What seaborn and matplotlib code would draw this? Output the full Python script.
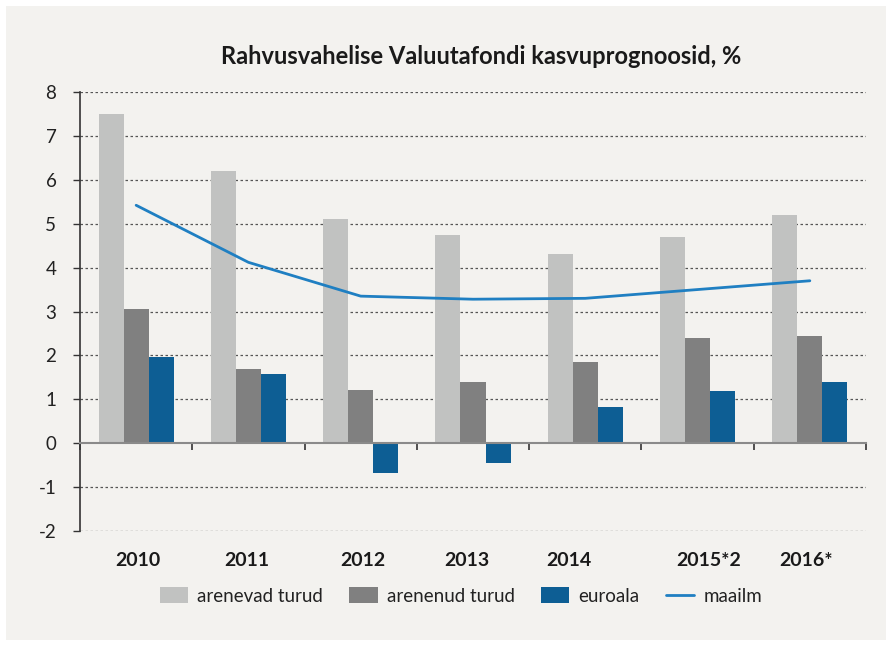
import matplotlib
matplotlib.use("Agg")
import matplotlib.pyplot as plt
import matplotlib.transforms as mtransforms
import seaborn as sns
import pandas as pd
import numpy as np
from matplotlib.patches import Patch, Rectangle
from matplotlib.lines import Line2D

categories = ["2010", "2011", "2012", "2013", "2014", "2015*2", "2016*"]
arenevad_turud = [7.5, 6.2, 5.1, 4.75, 4.3, 4.7, 5.2]
arenenud_turud = [3.05, 1.68, 1.22, 1.4, 1.85, 2.4, 2.45]
euroala = [1.97, 1.58, -0.68, -0.44, 0.83, 1.19, 1.4]
maailm = [5.42, 4.12, 3.35, 3.28, 3.3, 3.5, 3.7]
series_names = ["arenevad turud", "arenenud turud", "euroala"]
line_name = "maailm"
yticks = [-2, -1, 0, 1, 2, 3, 4, 5, 6, 7, 8]
title = "Rahvusvahelise Valuutafondi kasvuprognoosid, %"

colors = ["#c1c2c1", "#808080", "#0d5e94"]
line_color = "#1f7fc2"
bg = "#f3f2ef"

sns.set_theme(style="white")
plt.rcParams["font.family"] = ["Lato", "DejaVu Sans"]

df = pd.DataFrame({
    "year": categories * 3,
    "value": arenevad_turud + arenenud_turud + euroala,
    "series": sum([[s] * len(categories) for s in series_names], []),
})

fig = plt.figure(figsize=(8.9, 6.46), dpi=100)
fig.patch.set_facecolor("white")
fig.patches.append(Rectangle((6 / 890, 6 / 646), 880 / 890, 634 / 646,
                             transform=fig.transFigure, facecolor=bg,
                             edgecolor="none", zorder=-10))

ax = fig.add_axes([80 / 890, 1 - 531 / 646, 786 / 890, 439 / 646])
ax.set_facecolor("none")

sns.barplot(data=df, x="year", y="value", hue="series", order=categories,
            hue_order=series_names, palette=colors, width=0.67, saturation=1,
            legend=False, ax=ax, zorder=3, linewidth=0)
sns.pointplot(x=categories, y=maailm, order=categories, color=line_color,
              markers="", linestyles="-", ax=ax, zorder=4,
              linewidth=2.0)

ax.set_xlim(-0.5, len(categories) - 0.5)
ax.set_ylim(-2, 8)
ax.set_yticks(yticks)
ax.set_yticklabels([str(v) for v in yticks])
ax.set_xlabel("")
ax.set_ylabel("")

for v in yticks:
    if v != 0:
        ax.axhline(v, color="#555555", lw=0.9, ls=(0, (2, 2)), zorder=1)

for s in ["top", "right", "bottom"]:
    ax.spines[s].set_visible(False)
ax.spines["left"].set_color("#333333")
ax.spines["left"].set_linewidth(1.2)

ax.tick_params(axis="y", direction="out", length=5, width=1, color="#333333",
               labelsize=13.5, labelcolor="#222222", pad=12, left=True)
ax.tick_params(axis="x", length=0, pad=15, labelsize=14, labelcolor="#1a1a1a")
# the source places a few year labels slightly off-centre (pixel offsets)
label_shift_px = [2, -2, 2, -6, -16, 11, -4]
for lab, dx in zip(ax.get_xticklabels(), label_shift_px):
    lab.set_fontweight("bold")
    lab.set_transform(lab.get_transform() +
                      mtransforms.ScaledTranslation(dx / 100, 0, fig.dpi_scale_trans))

sec = ax.secondary_xaxis(0.2)
sec.set_xticks(np.arange(len(categories) + 1) - 0.5)
sec.set_xticklabels([])
sec.spines["bottom"].set_color("#8a8a8a")
sec.spines["bottom"].set_linewidth(1.5)
sec.tick_params(direction="out", length=5, width=1.2, color="#333333")
sec.set_zorder(5)

fig.text(481 / 890, 1 - 57 / 646, title, ha="center", va="center",
         fontsize=17, fontweight="bold", color="#1a1a1a")

handles = [Patch(facecolor=c, edgecolor="none") for c in colors]
handles.append(Line2D([0], [0], color=line_color, lw=2))
fig.legend(handles, series_names + [line_name], loc="center",
           bbox_to_anchor=(461 / 890, 1 - 596 / 646), ncol=4, frameon=False,
           fontsize=13.5, handlelength=1.5, handleheight=0.9, handletextpad=0.5,
           columnspacing=1.4, labelcolor="#222222")

fig.savefig("out.png", dpi=100, facecolor=fig.get_facecolor())
